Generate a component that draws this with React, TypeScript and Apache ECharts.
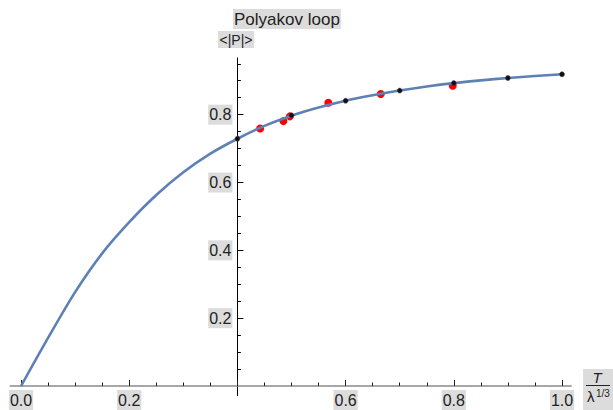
import React, { useEffect, useRef } from "react";
import * as echarts from "echarts";

// Fitted curve: T/λ^(1/3) -> <|P|>
const curveX = [0, 0.05, 0.1, 0.15, 0.2, 0.25, 0.3, 0.35, 0.4, 0.45, 0.5, 0.55, 0.6, 0.65, 0.7, 0.75, 0.8, 0.85, 0.9, 0.95, 1.0];
const curveY = [0, 0.142, 0.277, 0.391, 0.483, 0.563, 0.63, 0.685, 0.729, 0.767, 0.797, 0.821, 0.841, 0.857, 0.871, 0.883, 0.893, 0.901, 0.908, 0.914, 0.919];

// Red data points
const redX = [0.442, 0.485, 0.497, 0.568, 0.665, 0.798];
const redY = [0.759, 0.781, 0.795, 0.835, 0.861, 0.885];

// Black data points
const blackX = [0.4, 0.5, 0.6, 0.7, 0.8, 0.9, 1.0];
const blackY = [0.729, 0.798, 0.841, 0.871, 0.893, 0.908, 0.919];

// Tick values
const xMajorTicks = [0, 0.2, 0.4, 0.6, 0.8, 1.0];
const xLabels = [0, 0.2, 0.6, 0.8, 1.0];
const xMinorTicks = [0.05, 0.1, 0.15, 0.25, 0.3, 0.35, 0.45, 0.5, 0.55, 0.65, 0.7, 0.75, 0.85, 0.9, 0.95];
const yMajorTicks = [0.2, 0.4, 0.6, 0.8];
const yLabels = [0.2, 0.4, 0.6, 0.8];
const yMinorTicks = [0.05, 0.1, 0.15, 0.25, 0.3, 0.35, 0.45, 0.5, 0.55, 0.65, 0.7, 0.75, 0.85, 0.9, 0.95];

const XMIN = -0.02, XMAX = 1.017, YMIN = -0.028, YMAX = 0.967;
const AXIS_CROSS_X = 0.4;

const FONT = "'Liberation Sans', Arial, Helvetica, sans-serif";
const LABEL_BG = "#dcdcdc";

export default function App() {
  const ref = useRef<HTMLDivElement>(null);
  useEffect(() => {
    if (!ref.current) return;
    const chart = echarts.init(ref.current, null, { renderer: "svg" });
    const gridLeft = 10.2, gridTop = 58, gridWidth = 561, gridHeight = 339.8;
    const pxPerX = gridWidth / (XMAX - XMIN);
    const pxPerY = gridHeight / (YMAX - YMIN);
    const yOffset = -(AXIS_CROSS_X - XMIN) * pxPerX;
    const xOffset = -(0 - YMIN) * pxPerY;

    const labelStyle = {
      fontFamily: FONT,
      fontSize: 16,
      color: "#222",
      backgroundColor: LABEL_BG,
      padding: [2, 1, 1, 1],
      lineHeight: 17,
    };

    const option: any = {
      animation: false,
      grid: { left: gridLeft, top: gridTop, width: gridWidth, height: gridHeight, containLabel: false },
      xAxis: [
        {
          type: "value", min: XMIN, max: XMAX, position: "bottom", offset: xOffset,
          axisLine: { onZero: false, lineStyle: { color: "#8a8a8a", width: 1.5 } },
          axisTick: { inside: true, length: 6, customValues: xMajorTicks, lineStyle: { color: "#222", width: 1 } },
          axisLabel: { customValues: xLabels, margin: 4, formatter: (v: number) => v.toFixed(1), ...labelStyle },
          splitLine: { show: false },
        },
        {
          type: "value", min: XMIN, max: XMAX, position: "bottom", offset: xOffset,
          axisLine: { show: false, onZero: false },
          axisTick: { inside: true, length: 3.5, customValues: xMinorTicks, lineStyle: { color: "#222", width: 1 } },
          axisLabel: { show: false },
          splitLine: { show: false },
        },
      ],
      yAxis: [
        {
          type: "value", min: YMIN, max: YMAX, position: "left", offset: yOffset,
          axisLine: { onZero: false, lineStyle: { color: "#000", width: 1 } },
          axisTick: { inside: true, length: 6, customValues: yMajorTicks, lineStyle: { color: "#000", width: 1 } },
          axisLabel: { customValues: yLabels, margin: 5, formatter: (v: number) => v.toFixed(1), ...labelStyle },
          splitLine: { show: false },
        },
        {
          type: "value", min: YMIN, max: YMAX, position: "left", offset: yOffset,
          axisLine: { show: false, onZero: false },
          axisTick: { inside: true, length: 3.5, customValues: yMinorTicks, lineStyle: { color: "#000", width: 1 } },
          axisLabel: { show: false },
          splitLine: { show: false },
        },
      ],
      series: [
        {
          type: "scatter", xAxisIndex: 0, yAxisIndex: 0,
          data: redX.map((x, i) => [x, redY[i]]),
          symbolSize: 8, itemStyle: { color: "#ff0000", opacity: 1 }, z: 2,
        },
        {
          type: "line", xAxisIndex: 0, yAxisIndex: 0,
          data: curveX.map((x, i) => [x, curveY[i]]),
          smooth: 0.3, showSymbol: false,
          lineStyle: { color: "#5e81b5", width: 2.6 }, z: 3,
        },
        {
          type: "scatter", xAxisIndex: 0, yAxisIndex: 0,
          data: blackX.map((x, i) => [x, blackY[i]]),
          symbolSize: 5, itemStyle: { color: "#111", borderColor: "#444", borderWidth: 0.5, opacity: 1 }, z: 4,
        },
      ],
      graphic: [
        {
          type: "text", left: 233, top: 9,
          style: {
            text: "Polyakov loop", fontFamily: FONT, fontSize: 17, fill: "#222",
            backgroundColor: LABEL_BG, padding: [1, 1], lineHeight: 18,
          },
        },
        {
          type: "text", left: 218, top: 31,
          style: {
            text: "<|P|>", fontFamily: FONT, fontSize: 14, fill: "#222",
            backgroundColor: LABEL_BG, padding: [1, 1.5], lineHeight: 15,
          },
        },
        { type: "rect", shape: { x: 583, y: 369, width: 30, height: 41 }, style: { fill: LABEL_BG } },
        {
          type: "text", x: 597, y: 370,
          style: { text: "T", fontFamily: FONT, fontSize: 15, fontStyle: "italic", fill: "#222", align: "center", verticalAlign: "top" },
        },
        { type: "line", shape: { x1: 586, y1: 385.5, x2: 610, y2: 385.5 }, style: { stroke: "#222", lineWidth: 1 } },
        {
          type: "text", x: 587, y: 389,
          style: { text: "λ", fontFamily: FONT, fontSize: 15, fill: "#222", align: "left", verticalAlign: "top" },
        },
        {
          type: "text", x: 596, y: 388,
          style: { text: "1/3", fontFamily: FONT, fontSize: 10, fill: "#222", align: "left", verticalAlign: "top" },
        },
      ],
    };
    chart.setOption(option);
    return () => chart.dispose();
  }, []);
  return (
    <div
      ref={ref}
      style={{ position: "fixed", left: 0, top: 0, width: 613, height: 410, background: "#fff" }}
    />
  );
}
